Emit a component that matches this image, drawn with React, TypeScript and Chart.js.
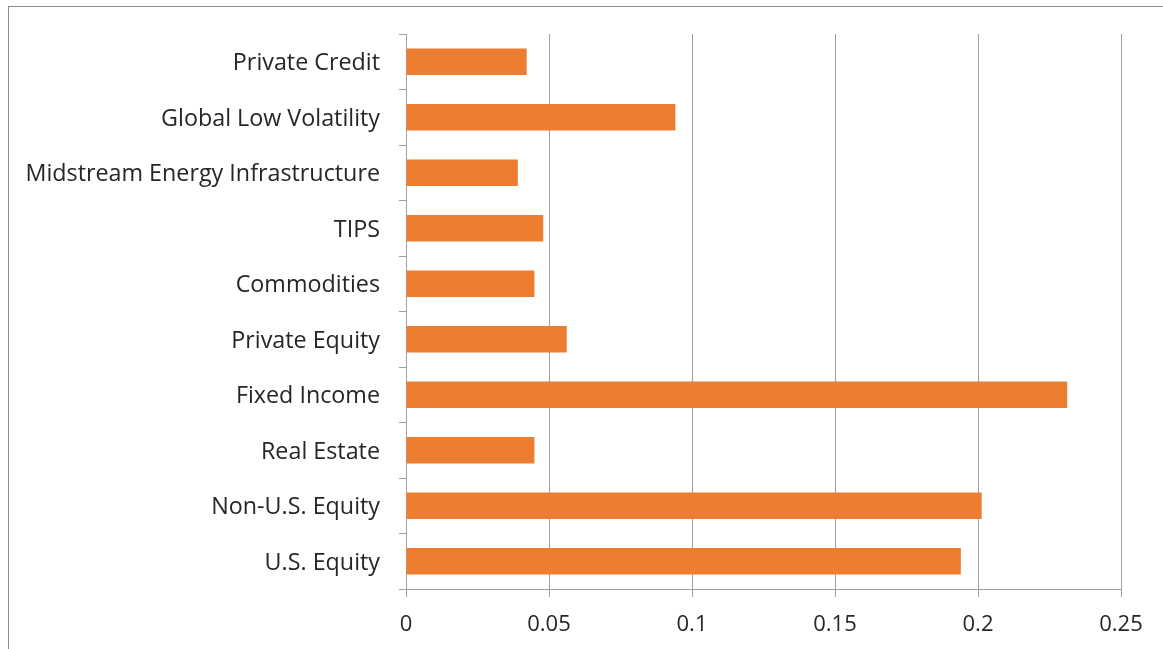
import React, { useEffect, useRef } from "react";
import { Chart, registerables } from "chart.js";

Chart.register(...registerables);

const categories = [
  "Private Credit",
  "Global Low Volatility",
  "Midstream Energy Infrastructure",
  "TIPS",
  "Commodities",
  "Private Equity",
  "Fixed Income",
  "Real Estate",
  "Non-U.S. Equity",
  "U.S. Equity",
];

const values = [0.0422, 0.0942, 0.0391, 0.048, 0.0449, 0.0562, 0.2312, 0.0449, 0.2013, 0.194];

const xTicks = [0, 0.05, 0.1, 0.15, 0.2, 0.25];

const FONT = "'Open Sans'";
const GRID = "#a0a0a0";
const TEXT = "#262626";

export default function App() {
  const ref = useRef<HTMLCanvasElement | null>(null);

  useEffect(() => {
    if (!ref.current) return;
    const chart = new Chart(ref.current, {
      type: "bar",
      data: {
        labels: categories,
        datasets: [
          {
            data: values,
            backgroundColor: "#ED7D31",
            categoryPercentage: 1,
            barPercentage: 0.476,
          },
        ],
      },
      options: {
        indexAxis: "y",
        animation: false,
        responsive: false,
        maintainAspectRatio: false,
        layout: { padding: { top: 34, right: 42, left: 0, bottom: 0 } },
        plugins: { legend: { display: false }, tooltip: { enabled: false } },
        scales: {
          x: {
            min: 0,
            max: 0.25,
            afterBuildTicks: (scale: any) => {
              scale.ticks = xTicks.map((v) => ({ value: v }));
            },
            afterFit: (scale: any) => {
              scale.height = 60;
            },
            ticks: {
              color: TEXT,
              font: { family: FONT, size: 22 },
              padding: 15,
              maxRotation: 0,
              callback: (v: any) => String(Number(v)),
            },
            grid: { color: GRID, lineWidth: 1, tickLength: 8 },
            border: { color: GRID },
          },
          y: {
            afterFit: (scale: any) => {
              scale.width = 406;
            },
            ticks: {
              color: TEXT,
              font: { family: FONT, size: 23.3 },
              padding: 19,
              labelOffset: 2,
              autoSkip: false,
            },
            grid: {
              offset: true,
              drawOnChartArea: false,
              color: GRID,
              tickLength: 7,
            },
            border: { color: GRID },
          },
        },
      },
    });
    return () => chart.destroy();
  }, []);

  return (
    <div
      style={{
        position: "absolute",
        left: 0,
        top: 0,
        width: 1163,
        height: 649,
        overflow: "hidden",
        background: "#fff",
      }}
    >
      <div
        style={{
          position: "absolute",
          left: 8,
          top: 6,
          width: 1400,
          height: 900,
          border: "1px solid #8c8c8c",
          boxSizing: "border-box",
        }}
      />
      <canvas
        ref={ref}
        width={1163}
        height={649}
        style={{ position: "absolute", left: 0, top: 0, width: 1163, height: 649 }}
      />
    </div>
  );
}
